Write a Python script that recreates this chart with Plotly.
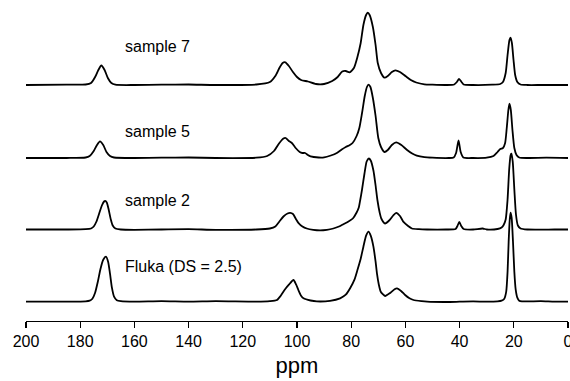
import plotly.graph_objects as go

# ---- data: chemical shift (ppm) and signal intensity (arbitrary units) ----
ppm_s7 = [200, 185, 178, 176, 174.5, 173.3, 172.2, 171, 169.8, 168.5, 167, 160, 150, 140, 130, 115, 110, 108,
          106.5, 105.3, 104.3, 103, 101.5, 100, 98.5, 96, 93, 90, 87, 85, 83.3, 82, 80.6, 79, 77.7, 76.5, 75.5,
          74.5, 73.9, 73.2, 72, 71, 70.2, 69, 67.7, 66.5, 65, 63.7, 62, 60, 58, 56, 53, 50, 45, 42, 41, 40.2,
          39.3, 38.5, 35, 28, 25, 24, 23, 22.3, 21.6, 21.2, 20.7, 20.1, 19.5, 18.7, 17.5, 15, 10, 5, 0]
int_s7 = [0, 0.3, 0.5, 2, 8, 15, 19.5, 15, 7, 2, 0.3, 0, 0.3, 0.5, 0, 0.5, 3, 9,
          17, 22, 22.7, 19, 13, 8, 5, 3.5, 1, 1, 4, 8, 13.5, 14, 12.7, 17, 28, 42, 60,
          70, 72.3, 70, 58, 40, 22, 12, 7.3, 9, 13, 14.7, 13, 9, 5, 2.5, 0.7, 0.3, 0, 0.5, 3, 6,
          3, 0.5, 0, 0.3, 1, 3, 12, 30, 45, 47.3, 42, 25, 10, 3, 0.5, 0, 0, 0, 0]

ppm_s5 = [200, 185, 178, 176.5, 175, 173.8, 172.7, 171.5, 170.3, 169, 167.5, 160, 150, 140, 130, 115, 111,
          108.5, 106.5, 105, 104.2, 103, 101.9, 100.5, 99, 98, 97, 96, 95, 92, 90, 87.5, 85.3, 83.5, 82, 80.5,
          79.5, 78, 77, 76, 75, 74.2, 73.6, 72.9, 72, 71, 70, 69, 67.7, 66.5, 65, 63.4, 61.5, 59.5, 57.5, 55.8,
          53, 50, 44, 42.2, 41.3, 40.4, 39.6, 38.6, 35, 30, 27.5, 26, 25, 24, 23.2, 22.6, 22, 21.6, 21.1, 20.5,
          19.8, 19, 18, 15, 8, 0]
int_s5 = [0, 0, 0.5, 2, 7, 13, 16.6, 13, 6, 2, 0.5, 0, 0.3, 0.5, 0, 0.3, 2,
          7, 15, 19.5, 20, 17, 15, 10, 6, 5, 5, 3, 1.6, 0.5, 0.6, 2.5, 5, 8.5, 11, 13,
          15, 22, 30, 45, 62, 71, 73.3, 71, 60, 42, 20, 11, 6, 8, 13, 15.6, 13, 8.3, 4.5, 2.3,
          0.8, 0.3, 0, 0.5, 5, 17.6, 6, 0.5, 0, 0.3, 2, 6, 9, 10, 15, 30, 48, 54.3, 48, 28,
          10, 3, 0.5, 0, 0.3, 0]

ppm_s2 = [200, 185, 178, 176, 175, 174, 173, 172, 171.2, 170.8, 170.2, 169.5, 168.7, 168, 167, 165, 160, 150,
          140, 130, 115, 110, 108, 106.5, 105, 103.5, 102.5, 101.5, 100.3, 99.5, 98, 96.4, 94, 91.5, 89, 86.6,
          84.5, 82.9, 81, 79.4, 78, 77.2, 76.7, 76, 75.1, 74.3, 73.5, 72.8, 71.8, 71, 70.3, 69.5, 68.9, 67.5,
          66, 64.5, 63.4, 62, 60.7, 59, 57.6, 55, 52, 45, 41.5, 40.8, 40.1, 39.4, 38.5, 35, 31.5, 30, 26, 24.5,
          23.8, 23, 22.3, 21.7, 21.2, 20.9, 20.4, 19.8, 19.2, 18.5, 17.5, 15, 5, 0]
int_s2 = [0, 0, 0.3, 1, 3, 8, 16, 24, 28, 28.6, 27, 20, 10, 4, 1, 0, -0.3, 0,
          0.3, -0.3, 0, 1, 3, 8, 13, 16, 16.6, 15.5, 10, 6.6, 3, 1, -0.3, -0.8, -0.3, 1,
          3, 5.3, 8, 11, 17, 22, 29, 40, 56, 68, 71, 69, 59, 44, 29, 17, 11, 6,
          9, 14, 16.6, 13.5, 7.6, 3.5, 1, 0.3, 0, 0, 0.5, 3.5, 7.6, 3.5, 0.5, 0, 1, 0, 0.5, 2,
          4.3, 10, 30, 60, 74, 76, 68, 40, 15, 4, 1, 0, 0, 0]

ppm_fl = [200, 185, 178, 176.5, 175.5, 174.5, 173.5, 172.5, 171.5, 170.5, 169.7, 169, 168.3, 167.5, 166.5, 165,
          160, 150, 140, 130, 115, 110, 107.4, 106, 104.4, 103, 101.3, 100.3, 99.5, 98.5, 97.6, 95, 92.7, 87.8,
          84.1, 82, 80.4, 78.8, 77.7, 76.5, 75.5, 74.5, 73.6, 72.8, 71.8, 71, 70.5, 69.8, 69.1, 67.5, 65.5, 64,
          63.1, 61.5, 60.1, 58.5, 57, 54, 52, 45, 40, 35, 30, 26, 24.5, 23.5, 22.8, 22.3, 21.9, 21.5, 21.2, 20.8,
          20.3, 19.8, 19.3, 18.7, 18, 17, 10, 5, 0]
int_fl = [0, 0, 0.3, 1, 3, 9, 20, 33, 42, 45, 40, 28, 14, 5, 1.5, 0.5,
          0, 0.5, 0, 0.5, 0, 0.5, 1.7, 6, 12.4, 17, 21.7, 17, 11.7, 6, 3.4, 1.2, 0.3, 0.9,
          3.4, 7, 13.4, 22, 31.7, 43, 55, 66, 70, 66, 55, 40, 28.4, 17, 10, 5.7, 9, 12.5,
          13.4, 10.5, 6.7, 3.5, 1.7, 0.5, 0, -0.3, 0, 0.3, 0, 0.3, 1, 3, 10, 30, 60, 82, 89, 84,
          60, 30, 12, 4, 1, 0.3, 0.5, 0, 0]

labels = ["sample 7", "sample 5", "sample 2", "Fluka (DS = 2.5)"]
tick_vals = [200, 180, 160, 140, 120, 100, 80, 60, 40, 20, 0]

# ---- vertical stacking offsets (layout, not data) ----
offsets = [236, 163, 91.5, 19.3]
label_y = [274.3, 189.3, 121, 54.3]
series = [(ppm_s7, int_s7), (ppm_s5, int_s5), (ppm_s2, int_s2), (ppm_fl, int_fl)]

fig = go.Figure()
for (px, iy), off in zip(series, offsets):
    fig.add_trace(go.Scatter(
        x=px, y=[v + off for v in iy], mode="lines",
        line=dict(color="black", width=1.8, shape="spline", smoothing=0.6),
        showlegend=False, hoverinfo="skip", cliponaxis=False))

for lab, ly in zip(labels, label_y):
    fig.add_annotation(x=164.2, y=ly, text=lab, showarrow=False, xanchor="left", yanchor="middle",
                       font=dict(family="Liberation Sans, Arial, sans-serif", size=16, color="black"))

fig.update_layout(
    width=570, height=381,
    margin=dict(l=26, r=2, t=5, b=60, autoexpand=False),
    paper_bgcolor="white", plot_bgcolor="white",
    font=dict(family="Liberation Sans, Arial, sans-serif", color="black"),
    xaxis=dict(range=[200, 0], tickvals=tick_vals, ticktext=[str(t) for t in tick_vals],
               automargin=False, ticklabeloverflow="allow",
               showline=True, linecolor="black", linewidth=1.2, ticks="outside", ticklen=6,
               tickwidth=1.2, tickcolor="black", showgrid=False, zeroline=False,
               tickfont=dict(size=16, color="black"),
               title=dict(text="ppm", font=dict(size=22, color="black"), standoff=8)),
    yaxis=dict(range=[0, 316], visible=False, showgrid=False, zeroline=False, automargin=False),
)

fig.write_html("out.html", config={"displayModeBar": False, "staticPlot": True},
               post_script="document.body.style.margin='0';document.body.style.overflow='hidden';")
